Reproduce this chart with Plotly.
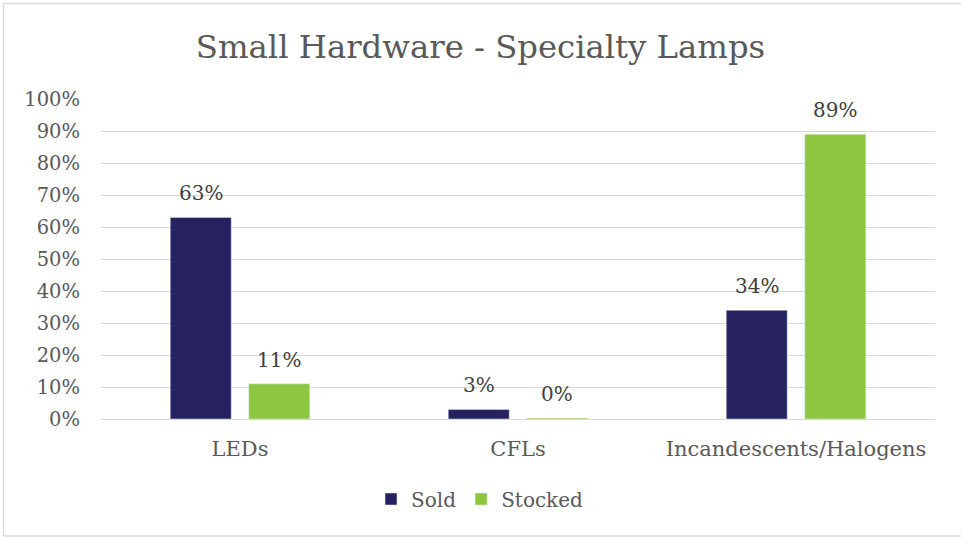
import plotly.graph_objects as go

categories = ["LEDs", "CFLs", "Incandescents/Halogens"]
sold = [0.63, 0.03, 0.34]
stocked = [0.11, 0.003, 0.89]
y_ticks = [i / 10 for i in range(11)]
y_tick_labels = [f"{i * 10}%" for i in range(11)]

SERIF = "Georgia, 'DejaVu Serif', serif"
TEXT_GRAY = "#595959"
LABEL_GRAY = "#404040"
SOLD_COLOR = "#262262"
STOCKED_COLOR = "#8DC63F"

# plot area in pixels
L, R, T, B = 101, 26, 99, 119
W, H = 961, 538
pw, ph = W - L - R, H - T - B
cat_px = pw / len(categories)

BARGAP = 0.435
slot_px = cat_px * (1 - BARGAP) / 2

fig = go.Figure()
fig.add_trace(go.Bar(name="Sold", x=categories, y=sold, marker_color=SOLD_COLOR))
fig.add_trace(go.Bar(name="Stocked", x=categories, y=stocked, marker_color=STOCKED_COLOR))

# value labels floating above each bar
annotations = []
for values, shift in ((sold, -slot_px / 2), (stocked, slot_px / 2)):
    for cat, v in zip(categories, values):
        annotations.append(dict(
            x=cat, y=v, xref="x", yref="y", text=f"{v:.0%}", showarrow=False,
            xshift=shift, yshift=24, yanchor="middle", xanchor="center",
            font=dict(family=SERIF, size=20, color=LABEL_GRAY),
        ))

fig.update_layout(
    width=W, height=H,
    margin=dict(l=L, r=R, t=T, b=B),
    paper_bgcolor="white", plot_bgcolor="white",
    barmode="group", bargap=BARGAP, bargroupgap=0.223,
    title=dict(text="Small Hardware - Specialty Lamps", x=0.5, xanchor="center",
               y=1 - 47 / H, yanchor="middle",
               font=dict(family=SERIF, size=32.3, color=TEXT_GRAY)),
    font=dict(family=SERIF, color=TEXT_GRAY),
    showlegend=True,
    legend=dict(orientation="h", x=0.5 + (480 - (L + pw / 2)) / pw, xanchor="center",
                y=-(499 - (T + ph)) / ph, yanchor="middle",
                font=dict(family=SERIF, size=20, color=TEXT_GRAY),
                itemwidth=30, traceorder="normal"),
    xaxis=dict(showgrid=False, showline=False, ticks="", zeroline=False,
               ticklabelstandoff=15,
               tickfont=dict(family=SERIF, size=21, color=TEXT_GRAY)),
    yaxis=dict(range=[0, 1], tickvals=y_ticks, ticktext=y_tick_labels,
               showgrid=True, gridcolor="#d9d9d9", gridwidth=1.4,
               zeroline=True, zerolinecolor="#d9d9d9", zerolinewidth=1.4,
               showline=False, ticks="", ticklabelstandoff=20,
               tickfont=dict(family=SERIF, size=19.5, color=TEXT_GRAY)),
    annotations=annotations,
    shapes=[dict(type="rect", xref="paper", yref="paper",
                 x0=(3.5 - L) / pw, x1=(W + 2 - L) / pw,
                 y0=-(536 - (T + ph)) / ph, y1=(T + ph - 3.5) / ph,
                 line=dict(color="#d9d9d9", width=1.3), fillcolor="rgba(0,0,0,0)",
                 layer="below")],
)

fig.write_html("out.html")
